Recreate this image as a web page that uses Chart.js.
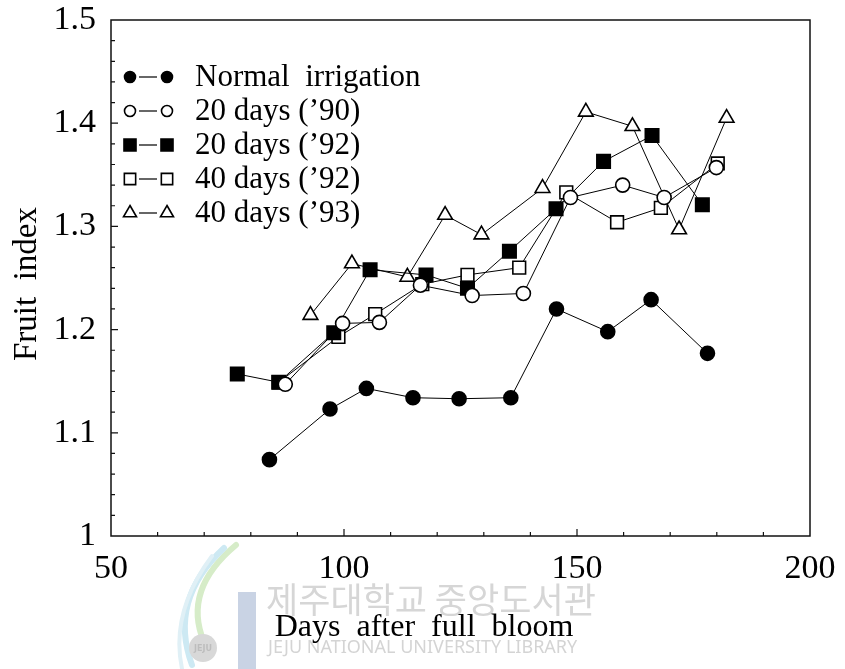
<!DOCTYPE html>
<html>
<head>
<meta charset="utf-8">
<script src="https://cdn.jsdelivr.net/npm/chart.js@4/dist/chart.umd.min.js"></script>
<style>
  html, body { margin: 0; padding: 0; background: #fff; }
</style>
</head>
<body>
<canvas id="c" width="845" height="669"></canvas>
<script>
// axis ranges / ticks
const X_MIN = 50, X_MAX = 200, X_STEP = 50, X_MINOR = 10;
const Y_MIN = 1.0, Y_MAX = 1.5, Y_STEP = 0.1, Y_MINOR = 0.02;

const seriesNames = ['Normal  irrigation', '20 days (\u201990)', '20 days (\u201992)', '40 days (\u201992)', '40 days (\u201993)'];

// values (days after full bloom, fruit index)
const normalDays = [84, 97, 104.8, 114.8, 124.7, 135.8, 145.6, 156.6, 165.9, 178];
const normalIdx  = [1.074, 1.123, 1.143, 1.134, 1.133, 1.134, 1.220, 1.198, 1.229, 1.177];

const d20y90Days = [87.4, 99.7, 107.6, 116.4, 127.5, 138.5, 148.6, 159.8, 168.7, 179.9];
const d20y90Idx  = [1.147, 1.206, 1.207, 1.243, 1.233, 1.235, 1.328, 1.340, 1.328, 1.357];

const d20y92Days = [77.1, 86.0, 97.8, 105.6, 117.6, 126.5, 135.5, 145.5, 155.7, 166.1, 176.9];
const d20y92Idx  = [1.157, 1.149, 1.197, 1.258, 1.253, 1.240, 1.276, 1.317, 1.363, 1.388, 1.321];

const d40y92Days = [86.0, 98.8, 106.7, 116.8, 126.5, 137.6, 147.7, 158.6, 168.0, 180.2];
const d40y92Idx  = [1.149, 1.193, 1.215, 1.244, 1.253, 1.260, 1.333, 1.304, 1.318, 1.361];

const d40y93Days = [92.8, 101.7, 113.6, 121.7, 129.5, 142.6, 151.9, 161.9, 171.9, 182.1];
const d40y93Idx  = [1.214, 1.264, 1.251, 1.311, 1.292, 1.337, 1.411, 1.397, 1.297, 1.405];

const SERIF = '"Liberation Serif", "DejaVu Serif", serif';

// marker styles, same order as seriesNames
const markers = [
  { style: 'circle',   fill: '#000', r: 7 },
  { style: 'circle',   fill: '#fff', r: 7 },
  { style: 'rect',     fill: '#000', r: 9.5 },
  { style: 'rect',     fill: '#fff', r: 9 },
  { style: 'triangle', fill: '#fff', r: 8.5 }
];

const allDays = [normalDays, d20y90Days, d20y92Days, d40y92Days, d40y93Days];
const allIdx  = [normalIdx, d20y90Idx, d20y92Idx, d40y92Idx, d40y93Idx];

const datasets = seriesNames.map((name, k) => ({
  label: name,
  data: allDays[k].map((d, i) => ({ x: d, y: allIdx[k][i] })),
  showLine: true,
  borderColor: '#000',
  borderWidth: 1,
  pointStyle: markers[k].style,
  pointRadius: markers[k].r,
  pointBackgroundColor: markers[k].fill,
  pointBorderColor: '#000',
  pointBorderWidth: 1.6
}));

// small marker used in the legend
function drawMarker(ctx, m, x, y) {
  ctx.beginPath();
  if (m.style === 'circle') {
    ctx.arc(x, y, m.r - 0.5, 0, Math.PI * 2);
  } else if (m.style === 'rect') {
    const s = m.r * Math.SQRT1_2;
    ctx.rect(x - s, y - s, 2 * s, 2 * s);
  } else {
    ctx.moveTo(x, y - m.r);
    ctx.lineTo(x + 0.866 * m.r, y + 0.5 * m.r);
    ctx.lineTo(x - 0.866 * m.r, y + 0.5 * m.r);
    ctx.closePath();
  }
  ctx.fillStyle = m.fill;
  ctx.fill();
  ctx.lineWidth = 1.6;
  ctx.strokeStyle = '#000';
  ctx.stroke();
}

const decor = {
  id: 'decor',
  beforeDraw(chart) {
    // library watermark behind the chart
    const ctx = chart.ctx;
    ctx.save();
    ctx.lineCap = 'round';
    ctx.lineWidth = 6;
    ctx.strokeStyle = '#d6ecc8';
    ctx.beginPath(); ctx.moveTo(236, 545); ctx.quadraticCurveTo(182, 590, 204, 642); ctx.stroke();
    ctx.strokeStyle = '#cde9f3';
    ctx.beginPath(); ctx.moveTo(224, 548); ctx.quadraticCurveTo(168, 600, 192, 665); ctx.stroke();
    ctx.lineWidth = 4;
    ctx.strokeStyle = '#e0f0f6';
    ctx.beginPath(); ctx.moveTo(212, 556); ctx.quadraticCurveTo(170, 612, 182, 669); ctx.stroke();
    ctx.fillStyle = '#c9d3e4';
    ctx.fillRect(238, 592, 18, 77);
    ctx.fillStyle = '#d8d8d8';
    ctx.beginPath(); ctx.arc(203, 648, 14, 0, Math.PI * 2); ctx.fill();
    ctx.fillStyle = '#bdbdbd';
    ctx.font = 'bold 8px "DejaVu Sans"';
    ctx.textAlign = 'center'; ctx.textBaseline = 'middle';
    ctx.fillText('JEJU', 203, 649);

    ctx.fillStyle = '#d6d6d6';
    ctx.textAlign = 'left';
    ctx.font = '35px "Noto Sans CJK KR"';
    ctx.fillText('제주대학교 중앙도서관', 266, 600);
    ctx.font = '18px "Noto Sans", "DejaVu Sans", sans-serif';
    ctx.fillStyle = '#d4d4d4';
    ctx.fillText('JEJU NATIONAL UNIVERSITY LIBRARY', 268, 648);
    ctx.restore();
  },
  afterDraw(chart) {
    const { ctx, chartArea: a, scales } = chart;
    const xs = scales.x, ys = scales.y;
    ctx.save();
    // frame
    ctx.strokeStyle = '#111';
    ctx.lineWidth = 1.5;
    ctx.strokeRect(a.left, a.top, a.right - a.left, a.bottom - a.top);
    // inward ticks on the left and bottom axes
    ctx.lineWidth = 1.2;
    ctx.beginPath();
    const ny = Math.round((Y_MAX - Y_MIN) / Y_MINOR);
    for (let i = 1; i < ny; i++) {
      const py = ys.getPixelForValue(Y_MIN + i * Y_MINOR);
      const len = i % 5 === 0 ? 7 : 4;
      ctx.moveTo(a.left, py); ctx.lineTo(a.left + len, py);
    }
    const nx = Math.round((X_MAX - X_MIN) / X_MINOR);
    for (let i = 1; i < nx; i++) {
      const px = xs.getPixelForValue(X_MIN + i * X_MINOR);
      const len = i % 5 === 0 ? 7 : 4;
      ctx.moveTo(px, a.bottom); ctx.lineTo(px, a.bottom - len);
    }
    ctx.stroke();

    // axis titles
    ctx.fillStyle = '#000';
    ctx.font = '32px ' + SERIF;
    ctx.textAlign = 'center';
    ctx.textBaseline = 'middle';
    ctx.fillText('Days  after  full  bloom', 424, 628);
    ctx.save();
    ctx.translate(27, 284);
    ctx.rotate(-Math.PI / 2);
    ctx.font = '33px ' + SERIF;
    ctx.fillText('Fruit  index', 0, 0);
    ctx.restore();

    // legend
    ctx.font = '31px ' + SERIF;
    ctx.textAlign = 'left';
    const rowY = [77, 111, 145, 179, 213];
    seriesNames.forEach((name, k) => {
      const y = rowY[k];
      ctx.lineWidth = 1.2;
      ctx.strokeStyle = '#000';
      ctx.beginPath(); ctx.moveTo(139, y); ctx.lineTo(157, y); ctx.stroke();
      const m = Object.assign({}, markers[k], { r: markers[k].r - 1 });
      drawMarker(ctx, m, 130, y);
      drawMarker(ctx, m, 167, y);
      ctx.fillStyle = '#000';
      ctx.fillText(name, 195, y + 1);
    });
    ctx.restore();
  }
};

new Chart(document.getElementById('c'), {
  type: 'scatter',
  data: { datasets },
  options: {
    responsive: false,
    animation: false,
    layout: { padding: { left: 0, right: 35, top: 20, bottom: 0 } },
    plugins: { legend: { display: false }, tooltip: { enabled: false } },
    scales: {
      x: {
        type: 'linear', min: X_MIN, max: X_MAX,
        grid: { display: false }, border: { display: false },
        ticks: { stepSize: X_STEP, color: '#000', padding: 5, maxRotation: 0,
                 font: { family: SERIF, size: 34 } },
        afterFit(s) { s.height = 133; s.paddingLeft = 0; s.paddingRight = 0; }
      },
      y: {
        min: Y_MIN, max: Y_MAX,
        grid: { display: false }, border: { display: false },
        ticks: { stepSize: Y_STEP, color: '#000', padding: 7,
                 font: { family: SERIF, size: 34 },
                 callback: v => (Math.abs(v - 1) < 1e-9 ? '1' : v.toFixed(1)) },
        afterFit(s) { s.width = 111; s.paddingTop = 0; s.paddingBottom = 0; }
      }
    }
  },
  plugins: [decor]
});
</script>
</body>
</html>
